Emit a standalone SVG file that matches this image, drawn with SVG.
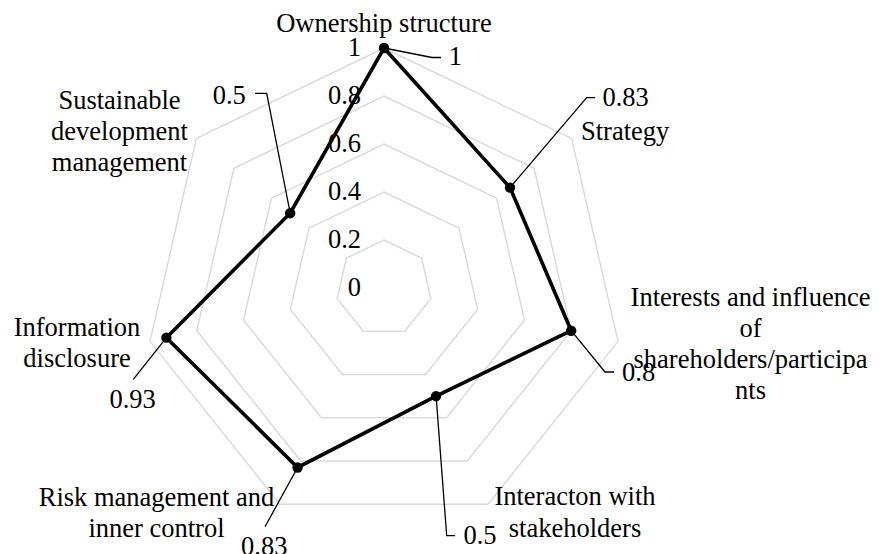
<svg xmlns="http://www.w3.org/2000/svg" width="883" height="554" viewBox="0 0 883 554">
<style>
text{font-family:"Liberation Serif","Times New Roman",serif;font-size:26.5px;fill:#000}
.ring{fill:none;stroke:#d9d9d9;stroke-width:1.4}
.series{fill:none;stroke:#000;stroke-width:3.6;stroke-linejoin:miter}
.lead{fill:none;stroke:#000;stroke-width:1.3}
.mid{text-anchor:middle}
.end{text-anchor:end}
</style>
<rect width="883" height="554" fill="#fff"/>
<g id="grid">
<polygon class="ring" points="384,240 421.53,258.07 430.8,298.68 404.83,331.25 363.17,331.25 337.2,298.68 346.47,258.07"/>
<polygon class="ring" points="384,192 459.06,228.14 477.59,309.36 425.65,374.49 342.35,374.49 290.41,309.36 308.94,228.14"/>
<polygon class="ring" points="384,144 496.58,198.22 524.39,320.04 446.48,417.74 321.52,417.74 243.61,320.04 271.42,198.22"/>
<polygon class="ring" points="384,96 534.11,168.29 571.19,330.72 467.31,460.99 300.69,460.99 196.81,330.72 233.89,168.29"/>
<polygon class="ring" points="384,48 571.64,138.36 617.98,341.41 488.13,504.23 279.87,504.23 150.02,341.41 196.36,138.36"/>
</g>
<g id="axis-ticks">
<text class="end" x="361" y="55.5">1</text>
<text class="end" x="361" y="103.5">0.8</text>
<text class="end" x="361" y="151.5">0.6</text>
<text class="end" x="361" y="199.5">0.4</text>
<text class="end" x="361" y="247.5">0.2</text>
<text class="end" x="361" y="295.5">0</text>
</g>
<g id="connectors">
<polyline class="lead" points="384,48 432,57.5 441,57.5"/>
<polyline class="lead" points="510,187.6 586.7,97.7 595,97.7"/>
<polyline class="lead" points="571.2,330.7 605,372 614,372"/>
<polyline class="lead" points="436.1,396.1 446.7,535.7 455,535.7"/>
<polyline class="lead" points="297.6,467.5 265,526.7"/>
<polyline class="lead" points="166.4,337.7 133.3,379.3"/>
<polyline class="lead" points="290.2,213.2 266.7,93.3 255,93.3"/>
</g>
<g id="series">
<polygon class="series" points="384,48 510,187.6 571.19,330.72 436.07,396.12 297.57,467.47 166.4,337.67 290.18,213.18"/>
<circle cx="384" cy="48" r="5.2"/>
<circle cx="510" cy="187.6" r="5.2"/>
<circle cx="571.19" cy="330.72" r="5.2"/>
<circle cx="436.07" cy="396.12" r="5.2"/>
<circle cx="297.57" cy="467.47" r="5.2"/>
<circle cx="166.4" cy="337.67" r="5.2"/>
<circle cx="290.18" cy="213.18" r="5.2"/>
</g>
<g id="ownership">
<text class="mid" x="384" y="31.7">Ownership structure</text>
<text x="448.8" y="65">1</text>
</g>
<g id="strategy">
<text x="581" y="140">Strategy</text>
<text x="602.4" y="105.5">0.83</text>
</g>
<g id="interests">
<text class="mid" x="750.5" y="306">Interests and influence</text>
<text class="mid" x="750.5" y="337">of</text>
<text class="mid" x="750.5" y="368">shareholders/participa</text>
<text class="mid" x="750.5" y="399">nts</text>
<text x="622" y="380.5">0.8</text>
</g>
<g id="interaction">
<text class="mid" x="575" y="505">Interacton with</text>
<text class="mid" x="575" y="536.5">stakeholders</text>
<text x="463.4" y="544">0.5</text>
</g>
<g id="risk">
<text class="mid" x="156.5" y="506">Risk management and</text>
<text class="mid" x="156.5" y="536.5">inner control</text>
<text x="241" y="555">0.83</text>
</g>
<g id="information">
<text class="mid" x="77" y="336">Information</text>
<text class="mid" x="77" y="367">disclosure</text>
<text x="109.4" y="408">0.93</text>
</g>
<g id="sustainable">
<text class="mid" x="119.5" y="109.3">Sustainable</text>
<text class="mid" x="119.5" y="140.3">development</text>
<text class="mid" x="119.5" y="171.3">management</text>
<text x="212.7" y="103.5">0.5</text>
</g>
</svg>
